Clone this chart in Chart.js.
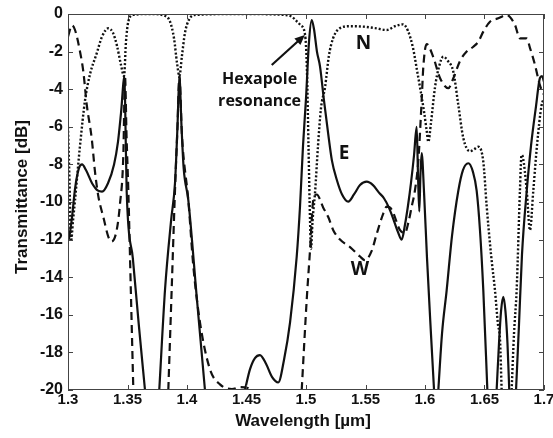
<!DOCTYPE html>
<html><head><meta charset="utf-8">
<script src="https://cdn.jsdelivr.net/npm/chart.js@4.4.1/dist/chart.umd.min.js"></script>
<style>html,body{margin:0;padding:0;background:#fff}#wrap{width:553px;height:438px}</style>
</head><body><div id="wrap"><canvas id="c" width="553" height="438"></canvas></div>
<script>
// ---- data (wavelength in µm, transmittance in dB) ----
const xTickLabels = ["1.3","1.35","1.4","1.45","1.5","1.55","1.6","1.65","1.7"];
const yTickLabels = ["-20","-18","-16","-14","-12","-10","-8","-6","-4","-2","0"];
const xTitle = "Wavelength [µm]";
const yTitle = "Transmittance [dB]";

const wlE = [1.3008,1.3034,1.3059,1.3092,1.3118,1.3151,1.3202,1.3252,1.3286,1.3336,1.3387,1.3420,1.3445,1.3475,1.3484,1.3493,1.3545,1.3596,1.3647,
  1.370,
  1.3767,1.3816,1.3866,1.3899,1.3920,1.3936,1.3954,1.3972,1.4011,1.4081,1.4151,
  1.430,
  1.4487,1.4529,1.4571,1.4613,1.4664,1.4714,1.4767,1.4815,1.4866,1.4922,1.4950,1.4975,1.5000,1.5025,1.5048,1.5067,1.5092,1.5118,1.5151,1.5185,1.5218,1.5258,1.5303,1.5355,1.5403,1.5454,1.5510,1.5563,1.5613,1.5655,1.5697,1.5739,1.5773,1.5804,1.5832,1.5857,1.5882,1.5908,1.5930,1.5941,1.5952,1.5962,1.5972,1.5992,1.6017,1.6050,1.6076,
  1.609,
  1.6112,1.6143,1.6182,1.6227,1.6280,1.6319,1.6364,1.6403,1.6434,1.6462,1.6490,1.6524,
  1.656,
  1.6602,1.6622,1.6639,1.6658,1.6676,1.6693,1.6708,
  1.673,
  1.6765,1.6790,1.6815,1.6855,1.6891,1.6933,1.6966,1.6983,1.7000];
const dbE = [-12.0,-10.8,-9.3,-8.2,-8.0,-8.3,-9.0,-9.4,-9.45,-9.0,-8.0,-6.8,-5.3,-3.3,-6.3,-9.4,-13.0,-16.6,-20,
  null,
  -20,-14.6,-11.0,-9.0,-6,-3.3,-6,-8.2,-9.9,-15.0,-20,
  null,
  -20,-18.9,-18.3,-18.14,-18.6,-19.3,-19.6,-18.4,-16.4,-12.9,-10.2,-7,-4.5,-1.5,-0.32,-0.8,-2.0,-2.8,-4.6,-6.3,-7.8,-8.8,-9.6,-9.98,-9.6,-9.1,-8.92,-9.1,-9.5,-9.8,-10.3,-11.0,-11.6,-12.0,-11.2,-10.2,-9.0,-7.5,-6.0,-8.5,-10.5,-8.5,-7.4,-9.5,-13,-17,-20,
  null,
  -20,-17,-14.7,-11.8,-9.4,-8.3,-7.94,-8.4,-9.4,-11.5,-14.7,-20,
  null,
  -20,-17.5,-15.8,-15.04,-15.8,-17.5,-20,
  null,
  -20,-16.5,-12.8,-9.4,-7.0,-4.9,-3.4,-3.3,-3.6];

const wlW = [1.3000,1.3034,1.3059,1.3101,1.3129,1.3157,1.3199,1.3227,1.3255,1.3297,1.3339,1.3367,1.3409,1.3437,1.3465,1.3479,1.3492,1.3507,1.3528,1.3549,
  1.370,
  1.3843,1.3871,1.3899,1.3920,1.3936,1.3958,1.4011,1.4053,1.4109,1.4193,1.4277,1.4378,1.4445,1.4513,1.4546,
  1.480,
  1.4964,1.5006,1.5034,1.5061,1.5090,1.5145,1.5187,1.5229,1.5286,1.5370,1.5454,1.5496,1.5552,1.5594,1.5650,1.5678,1.5720,1.5790,1.5832,1.5860,1.5888,1.5916,1.5944,1.5972,1.5986,1.6014,1.6070,1.6126,1.6196,1.6238,1.6294,1.6350,1.6406,1.6448,1.6490,1.6546,1.6616,1.6687,1.6756,1.6798,1.6855,1.6882,1.6924,1.6966,1.7000];
const dbW = [-1.2,-0.6,-0.85,-2.0,-3.07,-4.8,-6.6,-8.4,-9.7,-10.8,-11.85,-12.1,-11.5,-10.1,-7.5,-3.3,-6.5,-9.4,-14.7,-20,
  null,
  -20,-14.7,-9.4,-6,-3.3,-6.5,-9.9,-13.4,-16.4,-18.9,-19.7,-19.95,-19.85,-19.9,-20,
  null,
  -20,-15.2,-12.55,-9.9,-9.6,-10.3,-10.8,-11.5,-12.0,-12.4,-12.9,-13.1,-12.6,-11.7,-10.6,-10.25,-10.4,-11.5,-11.65,-11.1,-10.25,-9.36,-7.8,-4.6,-2.8,-1.6,-2.3,-3.4,-3.95,-3.42,-2.5,-2.0,-1.74,-1.47,-0.94,-0.41,-0.23,-0.05,-0.58,-1.3,-1.3,-1.8,-2.7,-3.8,-4.3];

const wlN = [1.3000,1.3013,1.3025,1.3042,1.3059,1.3101,1.3143,1.3185,1.3241,1.3286,1.3339,1.3378,1.3412,1.3445,1.3471,1.3487,1.3507,1.3546,1.3689,1.3815,1.3857,1.3891,1.3916,1.3936,1.3958,1.3983,1.4017,1.4067,1.4445,1.4824,1.4882,1.4924,1.4955,1.4992,1.5008,1.5021,1.5034,1.5042,1.5055,1.5076,1.5101,1.5126,1.5160,1.5193,1.5227,1.5286,1.5370,1.5479,1.5580,1.5678,1.5748,1.5815,1.5857,1.5899,1.5933,1.5958,1.5992,1.6014,1.6028,1.6050,1.6084,1.6118,1.6154,1.6193,1.6238,1.6280,1.6322,1.6378,1.6412,1.6448,1.6490,1.6518,1.6555,1.6588,1.6613,1.6630,1.6644,
  1.668,
  1.6728,1.6748,1.6770,1.6798,1.6811,1.6822,1.6855,1.6882,1.6910,1.6941,1.6980,1.7000];
const dbN = [-6.0,-9,-12.1,-11,-9.9,-7.0,-4.6,-3.2,-2.1,-1.2,-0.76,-1.0,-1.7,-2.7,-3.3,-1.5,-0.4,-0.05,0,-0.1,-0.4,-1.3,-2.6,-3.3,-2.2,-1.0,-0.3,-0.05,0,-0.05,-0.15,-0.4,-0.6,-1.1,-3,-7,-11,-12.5,-11,-9.5,-7,-5,-3.9,-2.2,-1.3,-0.75,-0.65,-0.67,-0.75,-0.85,-0.65,-0.55,-0.9,-1.8,-3.0,-3.9,-5.2,-6.2,-6.8,-5.8,-3.9,-2.8,-2.27,-2.5,-3.07,-4.84,-6.6,-7.3,-7.2,-7.06,-7.86,-10.2,-12.8,-14.7,-16.5,-17.3,-20,
  null,
  -20,-17,-14.7,-9.36,-7.5,-7.6,-9.4,-11.5,-9.4,-7.0,-4.84,-4.5];

// annotation labels
const curveLabels = [
  {text:"N", x:1.5483, y:-1.57},
  {text:"E", x:1.5319, y:-7.42},
  {text:"W", x:1.5454, y:-13.6}
];
const noteLines = ["Hexapole","resonance"];
const noteAt = {x:1.4610, y:[-3.46,-4.63]};
const arrowFrom = {x:1.4712, y:-2.71};
const arrowTo = {x:1.4990, y:-1.12};

// ---- build ----
const toPts = (xs, ys) => xs.map((v,i)=>({x:v, y:ys[i]}));
const ink = '#111';
const axisFont = '"Liberation Sans", Arial, sans-serif';

const framePlugin = {
  id:'frame',
  afterDatasetsDraw(chart){
    const {ctx, chartArea:a, scales:{x,y}} = chart;
    ctx.save();
    ctx.strokeStyle = '#444'; ctx.lineWidth = 1;
    ctx.strokeRect(Math.round(a.left)+0.5, Math.round(a.top)+0.5, Math.round(a.right-a.left)-1, Math.round(a.bottom-a.top)-1);
    ctx.beginPath();
    x.ticks.forEach(t=>{
      const p = Math.round(x.getPixelForValue(t.value))+0.5;
      ctx.moveTo(p, a.bottom); ctx.lineTo(p, a.bottom-5);
      ctx.moveTo(p, a.top); ctx.lineTo(p, a.top+5);
    });
    y.ticks.forEach(t=>{
      const p = Math.round(y.getPixelForValue(t.value))+0.5;
      ctx.moveTo(a.left, p); ctx.lineTo(a.left+5, p);
      ctx.moveTo(a.right, p); ctx.lineTo(a.right-5, p);
    });
    ctx.stroke();
    ctx.fillStyle = ink;
    // axis titles
    ctx.textAlign='center'; ctx.textBaseline='alphabetic';
    ctx.font = 'bold 17px ' + axisFont;
    ctx.fillText(xTitle, (a.left+a.right)/2 - 3, a.bottom + 36);
    ctx.save();
    ctx.translate(a.left - 41, (a.top+a.bottom)/2 - 5);
    ctx.rotate(-Math.PI/2);
    ctx.fillText(yTitle, 0, 0);
    ctx.restore();
    // curve labels
    ctx.textBaseline='middle';
    ctx.font = 'bold 19px "Open Sans", sans-serif';
    curveLabels.forEach(l=> ctx.fillText(l.text, x.getPixelForValue(l.x), y.getPixelForValue(l.y)));
    ctx.font = 'bold 16px "Open Sans", sans-serif';
    noteLines.forEach((s,i)=> ctx.fillText(s, x.getPixelForValue(noteAt.x), y.getPixelForValue(noteAt.y[i])));
    // arrow
    const x1 = x.getPixelForValue(arrowFrom.x), y1 = y.getPixelForValue(arrowFrom.y);
    const x2 = x.getPixelForValue(arrowTo.x), y2 = y.getPixelForValue(arrowTo.y);
    const ang = Math.atan2(y2-y1, x2-x1);
    ctx.strokeStyle = ink; ctx.lineWidth = 2.2;
    ctx.beginPath(); ctx.moveTo(x1,y1); ctx.lineTo(x2-7*Math.cos(ang), y2-7*Math.sin(ang)); ctx.stroke();
    ctx.beginPath();
    ctx.moveTo(x2,y2);
    ctx.lineTo(x2-10*Math.cos(ang)+4.5*Math.sin(ang), y2-10*Math.sin(ang)-4.5*Math.cos(ang));
    ctx.lineTo(x2-10*Math.cos(ang)-4.5*Math.sin(ang), y2-10*Math.sin(ang)+4.5*Math.cos(ang));
    ctx.closePath(); ctx.fill();
    ctx.restore();
  }
};

const common = {pointRadius:0, borderColor:ink, backgroundColor:ink, fill:false, cubicInterpolationMode:'monotone', spanGaps:false};

new Chart(document.getElementById('c'), {
  type:'line',
  data:{datasets:[
    {...common, label:'N', data:toPts(wlN, dbN), borderWidth:2.4, borderDash:[2,2]},
    {...common, label:'W', data:toPts(wlW, dbW), borderWidth:2.2, borderDash:[8,5]},
    {...common, label:'E', data:toPts(wlE, dbE), borderWidth:2.2}
  ]},
  options:{
    responsive:false, animation:false, devicePixelRatio:1,
    layout:{padding:{top:14, right:9, left:0, bottom:0}},
    plugins:{legend:{display:false}, tooltip:{enabled:false}},
    scales:{
      x:{type:'linear', min:1.3, max:1.7,
        ticks:{stepSize:0.05, color:ink, padding:1, maxRotation:0, autoSkip:false,
          font:{family:axisFont, weight:'bold', size:15},
          callback:(v,i)=>xTickLabels[i]},
        grid:{display:false, drawTicks:false}, border:{display:false},
        title:{display:false},
        afterFit:s=>{s.height=48; s.paddingLeft=0; s.paddingRight=0;}
      },
      y:{min:-20, max:0,
        ticks:{stepSize:2, color:ink, padding:5,
          font:{family:axisFont, weight:'bold', size:16},
          callback:(v,i)=>yTickLabels[i]},
        grid:{display:false, drawTicks:false}, border:{display:false},
        title:{display:false},
        afterFit:s=>{s.width=68; s.paddingTop=0; s.paddingBottom=0;}
      }
    }
  },
  plugins:[framePlugin]
});
</script></body></html>
